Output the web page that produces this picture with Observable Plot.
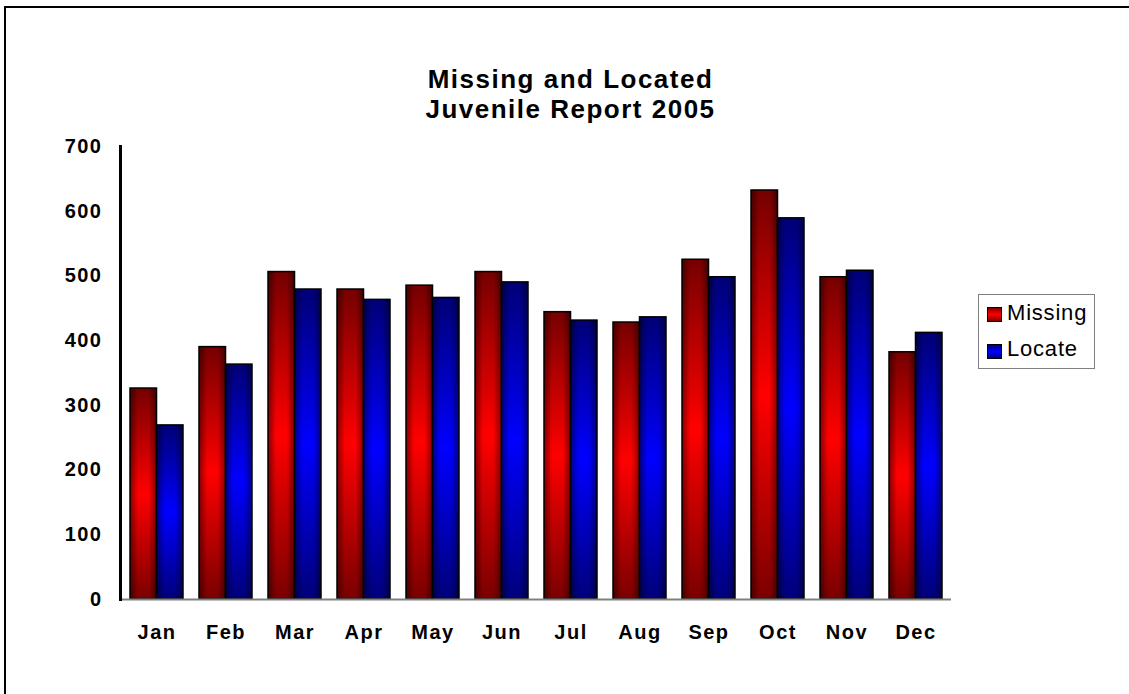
<!DOCTYPE html>
<html>
<head>
<meta charset="utf-8">
<script src="https://cdn.jsdelivr.net/npm/d3@7"></script>
<script src="https://cdn.jsdelivr.net/npm/@observablehq/plot@0.6"></script>
<style>
  body { margin: 0; background: #fff; overflow: hidden; }
  #wrap { position: relative; width: 1129px; height: 694px; overflow: hidden; font-family: Arial, "Liberation Sans", sans-serif; }
  #border { position: absolute; left: 4px; top: 6px; width: 1300px; height: 900px; border: 2px solid #000; box-sizing: border-box; }
  #chart { position: absolute; left: 0; top: 0; }
  #title { position: absolute; left: 0; width: 1141px; top: 64px; text-align: center; font-weight: bold; font-size: 26px; line-height: 30px; letter-spacing: 1.5px; color: #000; }
  #legend { position: absolute; left: 978px; top: 294px; width: 117px; height: 75px; border: 1px solid #808080; box-sizing: border-box; background: #fff; }
  .sw { position: absolute; left: 8px; width: 15px; height: 15px; border: 1px solid #000; box-sizing: border-box; }
  .lt { position: absolute; left: 28px; font-size: 22px; line-height: 22px; letter-spacing: 0.8px; color: #000; white-space: nowrap; }
</style>
</head>
<body>
<svg width="0" height="0" style="position:absolute">
  <defs>
    <linearGradient id="gRed" x1="0" y1="0" x2="0" y2="1">
      <stop offset="0" stop-color="#760000"/>
      <stop offset="0.5" stop-color="#ff0000"/>
      <stop offset="1" stop-color="#7a0000"/>
    </linearGradient>
    <linearGradient id="gBlue" x1="0" y1="0" x2="0" y2="1">
      <stop offset="0" stop-color="#000076"/>
      <stop offset="0.5" stop-color="#0000ff"/>
      <stop offset="1" stop-color="#00007a"/>
    </linearGradient>
    <linearGradient id="gShade" x1="0" y1="0" x2="1" y2="0">
      <stop offset="0" stop-color="#000" stop-opacity="0.45"/>
      <stop offset="0.3" stop-color="#000" stop-opacity="0"/>
      <stop offset="0.7" stop-color="#000" stop-opacity="0"/>
      <stop offset="1" stop-color="#000" stop-opacity="0.45"/>
    </linearGradient>
  </defs>
</svg>
<div id="wrap">
  <div id="border"></div>
  <div id="chart"></div>
  <div id="title">Missing and Located<br>Juvenile Report 2005</div>
  <div id="legend">
    <div class="sw" style="top:12px;background:linear-gradient(#800000,#ff0000,#800000)"></div>
    <div class="lt" style="top:7px">Missing</div>
    <div class="sw" style="top:49px;background:linear-gradient(#000080,#0000ff,#000080)"></div>
    <div class="lt" style="top:43px">Locate</div>
  </div>
</div>
<script>
const months = ["Jan","Feb","Mar","Apr","May","Jun","Jul","Aug","Sep","Oct","Nov","Dec"];
const missing = [326, 390, 506, 479, 485, 506, 444, 428, 525, 632, 498, 382];
const locate  = [269, 363, 479, 463, 466, 490, 431, 436, 498, 589, 508, 412];
const yTicks = [0, 100, 200, 300, 400, 500, 600, 700];

const W = 1129, H = 694;
const mL = 120, mR = 178, mT = 146, mB = 95;
const padIn = 0.235;
const bw = (W - mL - mR) / months.length * (1 - padIn);
const half = bw / 2;

const chart = Plot.plot({
  width: W,
  height: H,
  marginLeft: mL,
  marginRight: mR,
  marginTop: mT,
  marginBottom: mB,
  style: { fontFamily: "Arial, 'Liberation Sans', sans-serif", fontSize: "20px", fontWeight: "bold", letterSpacing: "1.5px", color: "#000", background: "transparent" },
  x: { domain: months, paddingInner: padIn, paddingOuter: padIn / 2, label: null },
  y: { domain: [0, 700], label: null },
  marks: [
    Plot.barY(missing, { x: months, y: missing, insetRight: half, fill: "url(#gRed)" }),
    Plot.barY(missing, { x: months, y: missing, insetRight: half, fill: "url(#gShade)" }),
    Plot.barY(missing, { x: months, y: missing, insetRight: half, fill: "none", stroke: "#000", strokeWidth: 1.5 }),
    Plot.barY(locate, { x: months, y: locate, insetLeft: half, fill: "url(#gBlue)" }),
    Plot.barY(locate, { x: months, y: locate, insetLeft: half, fill: "url(#gShade)" }),
    Plot.barY(locate, { x: months, y: locate, insetLeft: half, fill: "none", stroke: "#000", strokeWidth: 1.5 }),
    Plot.axisY(yTicks, { tickSize: 0, tickPadding: 18, label: null }),
    Plot.axisX({ tickSize: 0, tickPadding: 25, label: null }),
    Plot.ruleY([0], { stroke: "#808080", strokeWidth: 2 }),
    Plot.frame({ anchor: "left", stroke: "#000", strokeWidth: 3 })
  ]
});
document.getElementById("chart").appendChild(chart);
</script>
</body>
</html>
